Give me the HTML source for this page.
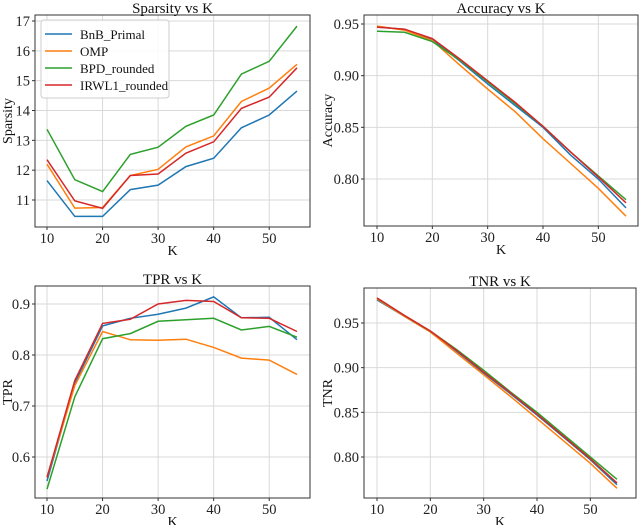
<!DOCTYPE html>
<html><head><meta charset="utf-8"><style>
html,body{margin:0;padding:0;background:#fff}
svg{display:block}
svg text{font-family:"Liberation Serif","DejaVu Serif",serif}
</style></head><body>
<svg id="chart" width="640" height="525" viewBox="0 0 640 525" xmlns="http://www.w3.org/2000/svg" font-family="Liberation Serif, serif">
</svg>
<script>
const kValues=[10,15,20,25,30,35,40,45,50,55];
const xTicks=[10,20,30,40,50];
const seriesNames=["BnB_Primal","OMP","BPD_rounded","IRWL1_rounded"];
const seriesColors=["#1f77b4","#ff7f0e","#2ca02c","#d62728"];
const sparsityBnB=[11.65,10.45,10.45,11.35,11.5,12.12,12.4,13.42,13.85,14.65];
const sparsityOMP=[12.2,10.73,10.75,11.82,12.03,12.78,13.15,14.3,14.75,15.55];
const sparsityBPD=[13.37,11.68,11.28,12.53,12.77,13.47,13.85,15.22,15.65,16.83];
const sparsityIRWL1=[12.35,10.97,10.72,11.82,11.87,12.57,12.95,14.07,14.45,15.43];
const sparsityTicks=[11,12,13,14,15,16,17];
const accuracyBnB=[0.947,0.945,0.935,0.914,0.892,0.871,0.85,0.823,0.8,0.772];
const accuracyOMP=[0.948,0.944,0.934,0.91,0.887,0.865,0.839,0.815,0.791,0.764];
const accuracyBPD=[0.943,0.942,0.933,0.915,0.894,0.873,0.851,0.826,0.803,0.78];
const accuracyIRWL1=[0.947,0.945,0.936,0.916,0.895,0.874,0.851,0.826,0.802,0.777];
const accuracyTicks=[0.80,0.85,0.90,0.95];
const tprBnB=[0.553,0.745,0.857,0.872,0.88,0.892,0.914,0.873,0.874,0.83];
const tprOMP=[0.56,0.74,0.846,0.83,0.829,0.831,0.815,0.794,0.79,0.762];
const tprBPD=[0.537,0.718,0.832,0.842,0.866,0.869,0.872,0.849,0.856,0.835];
const tprIRWL1=[0.56,0.75,0.862,0.87,0.9,0.907,0.905,0.873,0.872,0.846];
const tprTicks=[0.6,0.7,0.8,0.9];
const tnrBnB=[0.976,0.958,0.94,0.918,0.894,0.871,0.847,0.822,0.797,0.769];
const tnrOMP=[0.977,0.958,0.94,0.916,0.892,0.868,0.843,0.818,0.793,0.765];
const tnrBPD=[0.978,0.959,0.941,0.92,0.897,0.873,0.85,0.825,0.8,0.775];
const tnrIRWL1=[0.978,0.959,0.941,0.919,0.895,0.872,0.848,0.823,0.798,0.771];
const tnrTicks=[0.80,0.85,0.90,0.95];

const NS="http://www.w3.org/2000/svg";
const svg=document.getElementById('chart');
const FF='"Liberation Serif", serif';
function mk(tag,attrs,parent,text){const e=document.createElementNS(NS,tag);for(const k in attrs)e.setAttribute(k,attrs[k]);if(tag==='text')e.setAttribute('font-family',FF);if(text!==undefined)e.textContent=text;(parent||svg).appendChild(e);return e;}

const panels=[
 {id:"sparsity",title:"Sparsity vs K",ylabel:"Sparsity",box:[35,15,310,227],xr:[47,297],yv:[11,17],yp:[200,21],ticks:sparsityTicks,fmt:v=>String(v),data:[sparsityBnB,sparsityOMP,sparsityBPD,sparsityIRWL1],legend:true,yl:9},
 {id:"accuracy",title:"Accuracy vs K",ylabel:"Accuracy",box:[364,15,638,226],xr:[377,626],yv:[0.80,0.95],yp:[179,24],ticks:accuracyTicks,fmt:v=>v.toFixed(2),data:[accuracyBnB,accuracyOMP,accuracyBPD,accuracyIRWL1],yl:329},
 {id:"tpr",title:"TPR vs K",ylabel:"TPR",box:[35,286,310,498],xr:[47,297],yv:[0.6,0.9],yp:[457,304],ticks:tprTicks,fmt:v=>v.toFixed(1),data:[tprBnB,tprOMP,tprBPD,tprIRWL1],yl:9},
 {id:"tnr",title:"TNR vs K",ylabel:"TNR",box:[364,288,636,498],xr:[377,617],yv:[0.80,0.95],yp:[457,323],ticks:tnrTicks,fmt:v=>v.toFixed(2),data:[tnrBnB,tnrOMP,tnrBPD,tnrIRWL1],yl:329}
];

panels.forEach(p=>{
 const g=mk('g',{});
 
 
 const [x0,y0,x1,y1]=p.box;
 const xs=k=>p.xr[0]+(k-10)/45*(p.xr[1]-p.xr[0]);
 const ys=v=>p.yp[0]+(v-p.yv[0])/(p.yv[1]-p.yv[0])*(p.yp[1]-p.yp[0]);
 xTicks.forEach(t=>{
  const x=xs(t);
  const l=mk('line',{x1:x,x2:x,y1:y0,y2:y1,stroke:'#d9d9d9','stroke-width':1},g);
  
  
  mk('line',{x1:x,x2:x,y1:y1,y2:y1+3,stroke:'#333'},g);
  const tx=mk('text',{x:x,y:y1+16,'text-anchor':'middle','font-size':14.5,fill:'#222'},g,String(t));
  
  
 });
 p.ticks.forEach(t=>{
  const y=ys(t);
  const l=mk('line',{x1:x0,x2:x1,y1:y,y2:y,stroke:'#d9d9d9','stroke-width':1},g);
  
  
  mk('line',{x1:x0-3,x2:x0,y1:y,y2:y,stroke:'#333'},g);
  const tx=mk('text',{x:x0-5,y:y+5,'text-anchor':'end','font-size':14.5,fill:'#222'},g,p.fmt(t));
  
  
 });
 p.data.forEach((arr,i)=>{
  const pts=arr.map((v,j)=>xs(kValues[j]).toFixed(1)+','+ys(v).toFixed(1)).join(' ');
  const pl=mk('polyline',{points:pts,fill:'none',stroke:seriesColors[i],'stroke-width':1.5},g);
  
  
 });
 const fr=mk('rect',{x:x0,y:y0,width:x1-x0,height:y1-y0,fill:'none',stroke:'#333','stroke-width':1},g);
 
 
 const tt=mk('text',{x:(x0+x1)/2,y:y0-2,'text-anchor':'middle','font-size':15,fill:'#111'},g,p.title);
 
 
 const xl=mk('text',{x:(x0+x1)/2,y:y1+28,'text-anchor':'middle','font-size':14,fill:'#111'},g,'K');
 
 
 const cy=(y0+y1)/2;
 const yl=mk('text',{x:p.yl,y:cy,'text-anchor':'middle','dominant-baseline':'middle','font-size':14,fill:'#111',transform:`rotate(-90 ${p.yl} ${cy})`},g,p.ylabel);
 
 
 if(p.legend){
  const lg=mk('g',{},g);
  
  
  mk('rect',{x:41,y:20,width:128,height:78,rx:3,fill:'#fff','fill-opacity':0.85,stroke:'#ccc'},lg);
  seriesNames.forEach((n,i)=>{
   const y=34+i*17;
   const e=mk('g',{},lg);
   
   
   mk('line',{x1:45,x2:72,y1:y,y2:y,stroke:seriesColors[i],'stroke-width':1.5},e);
   mk('text',{x:80,y:y+5,'font-size':13,fill:'#111'},e,n);
  });
 }
});
</script>
</body></html>
